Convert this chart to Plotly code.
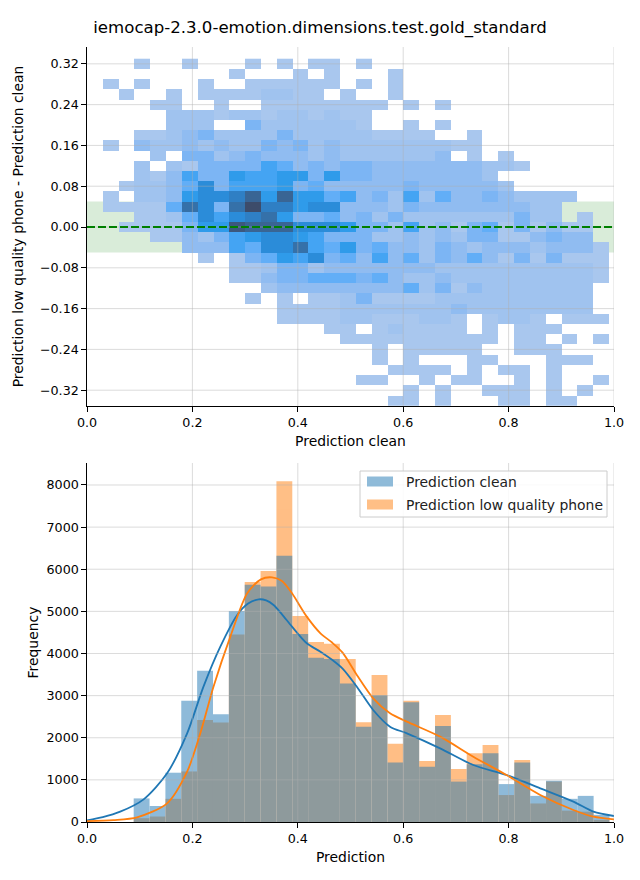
import plotly.graph_objects as go

TITLE = "iemocap-2.3.0-emotion.dimensions.test.gold_standard"

# ---------------- top: 2D histogram (intensity level per cell) ----
# columns: x bins of width 0.03 starting at 0.0 (33 columns)
# rows: y bins centred on 0.32, 0.30, ... , -0.34 (34 rows)
hm_x_start = 0.0
hm_x_width = 0.03
hm_y_top = 0.32
hm_y_step = 0.02
# level code per cell: 0 = empty, 1..d = light -> dark (groups of 5 columns)
hm_rows = [
    "00010 01000 10101 10100 00000 00000 000",  # 0.32
    "00000 00001 00010 10001 00000 00000 000",  # 0.30
    "01010 00100 11111 10101 00000 00000 000",  # 0.28
    "00100 10111 12211 01001 00000 00000 000",  # 0.26
    "00001 10010 01111 11110 10100 00000 000",  # 0.24
    "00000 22212 21221 21100 00000 00000 000",  # 0.22
    "00000 22200 42222 22100 10100 00000 000",  # 0.20
    "00011 23422 22422 22211 11001 00000 000",  # 0.18
    "01032 23232 24342 32222 22211 00000 000",  # 0.16
    "00002 04423 43332 32222 22301 01000 000",  # 0.14
    "00020 21444 46534 34433 33333 22100 000",  # 0.12
    "00021 36447 66774 74433 33333 20000 000",  # 0.10
    "00122 35846 66745 33333 43333 32000 000",  # 0.08
    "01022 37889 b7b77 56342 62533 43222 200",  # 0.06
    "01111 5a84a d9978 83332 43333 33322 000",  # 0.04
    "00011 25868 9a744 53424 22222 22422 010",  # 0.02
    "00111 1477c bbb88 87442 62314 51413 110",  # 0.00
    "00001 13246 78876 44422 32324 41134 330",  # -0.02
    "00000 03336 588a6 57453 32432 33323 331",  # -0.04
    "00000 00101 45768 45363 52435 31414 111",  # -0.06
    "00000 00001 12442 33333 33222 22222 221",  # -0.08
    "00000 00001 13445 55453 22322 22222 221",  # -0.10
    "00000 00000 02333 33333 52413 22222 220",  # -0.12
    "00000 00000 10101 12411 11222 22222 220",  # -0.14
    "00000 00000 00111 12222 22232 22222 220",  # -0.16
    "00000 00000 00111 12211 12210 12210 111",  # -0.18
    "00000 00000 00000 11012 11110 10111 000",  # -0.20
    "00000 00000 00000 01111 11111 10110 101",  # -0.22
    "00000 00000 00000 00010 11111 00111 000",  # -0.24
    "00000 00000 00000 00010 10001 10001 110",  # -0.26
    "00000 00000 00000 00001 11101 01101 000",  # -0.28
    "00000 00000 00000 00110 01011 00101 001",  # -0.30
    "00000 00000 00000 00000 10100 11101 010",  # -0.32
    "00000 00000 00000 00001 10100 01101 100",  # -0.34
]
level_colors = ["#a9c7ee", "#a0c3ef", "#90bcf1", "#7cb5f4", "#62aef7", "#44a4f3",
                "#2f9bea", "#2b8cd9", "#2f7fc4", "#3571a9", "#396594", "#3c587e", "#3d4c6a"]

top_yticks = [-0.32, -0.24, -0.16, -0.08, 0.0, 0.08, 0.16, 0.24, 0.32]
x_ticks = [0.0, 0.2, 0.4, 0.6, 0.8, 1.0]

# ---------------- bottom: histograms + KDE -----------------------------------------
bin_lo, bin_hi, n_bins = 0.0886, 0.9914, 30
clean_counts = [560, 380, 1170, 2880, 3590, 2560, 5010, 5630, 5590, 6320,
                4460, 3900, 3870, 3290, 2260, 3010, 1410, 2840, 1310, 2280,
                960, 1370, 1630, 900, 1410, 620, 980, 550, 620, 170]
phone_counts = [90, 130, 550, 1200, 2420, 2360, 4450, 5700, 5960, 8090,
                4890, 4270, 4230, 3870, 2370, 3490, 1860, 2880, 1450, 2540,
                1260, 1630, 1830, 640, 1470, 440, 960, 270, 245, 50]

kde_x_clean = [0.0, 0.03, 0.063, 0.1075, 0.152, 0.19, 0.221, 0.253, 0.285, 0.305,
               0.326, 0.34, 0.354, 0.37, 0.389, 0.417, 0.443, 0.465, 0.485, 0.512,
               0.543, 0.575, 0.607, 0.67, 0.733, 0.796, 0.86, 0.923, 0.961, 1.0]
kde_y_clean = [40, 115, 245, 538, 1156, 2105, 3212, 4162, 4914, 5180,
               5286, 5260, 5151, 4930, 4637, 4242, 4043, 3850, 3640, 3212,
               2659, 2263, 2105, 1749, 1353, 1116, 799, 483, 245, 142]
kde_x_phone = [0.0, 0.05, 0.095, 0.152, 0.19, 0.215, 0.24, 0.272, 0.304, 0.33,
               0.351, 0.37, 0.389, 0.417, 0.443, 0.465, 0.485, 0.512, 0.543, 0.575,
               0.607, 0.67, 0.733, 0.796, 0.86, 0.923, 0.961, 1.0]
kde_y_phone = [20, 45, 111, 443, 1195, 2105, 3212, 4400, 5428, 5760,
               5808, 5720, 5428, 4875, 4479, 4260, 4020, 3490, 2936, 2580,
               2382, 2026, 1551, 1116, 641, 285, 126, 63]
bottom_yticks = [0, 1000, 2000, 3000, 4000, 5000, 6000, 7000, 8000]
legend_labels = ["Prediction clean", "Prediction low quality phone"]

# ---------------- build -----------------------------------------------------------
FONT = "DejaVu Sans"
BLUE = "#1f77b4"
ORANGE = "#ff7f0e"
TICK_SIZE = 12.7
LABEL_SIZE = 13.9

z = []
for r in hm_rows:
    s = r.replace(" ", "")
    s = (s + "0" * 33)[:33]
    z.append([None if c == "0" else int(c, 16) for c in s])
hm_x = [hm_x_start + hm_x_width * (k + 0.5) for k in range(33)]
hm_y = [round(hm_y_top - hm_y_step * j, 3) for j in range(len(hm_rows))]
n_lv = len(level_colors)
cscale = [[i / (n_lv - 1), c] for i, c in enumerate(level_colors)]

bw = (bin_hi - bin_lo) / n_bins
bin_centers = [bin_lo + bw * (i + 0.5) for i in range(n_bins)]

fig = go.Figure()
fig.add_trace(go.Heatmap(x=hm_x, y=hm_y, z=z, colorscale=cscale, zmin=1, zmax=n_lv,
                         showscale=False, xaxis="x", yaxis="y", hoverinfo="skip"))

fig.add_trace(go.Bar(x=bin_centers, y=phone_counts, width=bw, marker_color=ORANGE,
                     opacity=0.5, marker_line_width=0, name=legend_labels[1],
                     xaxis="x2", yaxis="y2", showlegend=False))
fig.add_trace(go.Bar(x=bin_centers, y=clean_counts, width=bw, marker_color=BLUE,
                     opacity=0.5, marker_line_width=0, name=legend_labels[0],
                     xaxis="x2", yaxis="y2", showlegend=False))
fig.add_trace(go.Scatter(x=kde_x_clean, y=kde_y_clean, mode="lines", line_shape="spline",
                         line=dict(color=BLUE, width=1.8, smoothing=0.8), showlegend=False,
                         xaxis="x2", yaxis="y2"))
fig.add_trace(go.Scatter(x=kde_x_phone, y=kde_y_phone, mode="lines", line_shape="spline",
                         line=dict(color=ORANGE, width=1.8, smoothing=0.8), showlegend=False,
                         xaxis="x2", yaxis="y2"))

# page body adds an 8px offset; compensate so the plot lands where the reference has it
OFF = 8
W, H = 640, 880
PX_L, PX_R, PX_T, PX_B = 87, 614, 47, 822   # target plot box in page pixels
L = PX_L - OFF
R = W - (PX_R - OFF)
T = PX_T - OFF
B = H - (PX_B - OFF)
plot_h = PX_B - PX_T
plot_w = PX_R - PX_L
top_dom = [(PX_B - 406) / plot_h, 1.0]
bot_dom = [0.0, (PX_B - 463) / plot_h]


def px(xp):
    return (xp - PX_L) / plot_w


def py(yp):
    return (PX_B - yp) / plot_h


shapes = []
# green tolerance band (below)
shapes.append(dict(type="rect", xref="x domain", yref="y", x0=0, x1=1, y0=-0.05, y1=0.05,
                   fillcolor="rgba(0,128,0,0.15)", line_width=0, layer="below"))
GRID = "rgba(176,176,176,0.45)"
for xv in x_ticks[1:]:
    shapes.append(dict(type="line", xref="x", yref="y domain", x0=xv, x1=xv, y0=0, y1=1,
                       line=dict(color=GRID, width=1), layer="above"))
    shapes.append(dict(type="line", xref="x2", yref="y2 domain", x0=xv, x1=xv, y0=0, y1=1,
                       line=dict(color=GRID, width=1), layer="above"))
for yv in top_yticks:
    shapes.append(dict(type="line", xref="x domain", yref="y", x0=0, x1=1, y0=yv, y1=yv,
                       line=dict(color=GRID, width=1), layer="above"))
for yv in bottom_yticks[1:]:
    shapes.append(dict(type="line", xref="x2 domain", yref="y2", x0=0, x1=1, y0=yv, y1=yv,
                       line=dict(color=GRID, width=1), layer="above"))
# zero reference line
shapes.append(dict(type="line", xref="x domain", yref="y", x0=0, x1=1, y0=0, y1=0,
                   line=dict(color="#008000", width=2, dash="8px,3px"), layer="above"))

# legend drawn like matplotlib's (frame + wide patches)
LEG_X0, LEG_X1, LEG_Y0, LEG_Y1 = 360, 607, 471, 517
shapes.append(dict(type="rect", xref="paper", yref="paper",
                   x0=px(LEG_X0), x1=px(LEG_X1), y0=py(LEG_Y1), y1=py(LEG_Y0),
                   fillcolor="rgba(255,255,255,0.85)", line=dict(color="#cccccc", width=1),
                   layer="above"))
annotations = []
row_centers = [481.5, 504.5]
for lab, col, yc in zip(legend_labels, [BLUE, ORANGE], row_centers):
    shapes.append(dict(type="rect", xref="paper", yref="paper",
                       x0=px(367), x1=px(393), y0=py(yc + 5), y1=py(yc - 5),
                       fillcolor=col, opacity=0.5, line_width=0, layer="above"))
    annotations.append(dict(text=lab, xref="paper", yref="paper", x=px(404), y=py(yc),
                            xanchor="left", yanchor="middle", showarrow=False,
                            font=dict(family=FONT, size=LABEL_SIZE, color="#222222")))

axis_common = dict(showline=True, linecolor="black", linewidth=1.3, ticks="outside",
                   ticklen=4.5, tickwidth=1, tickcolor="black", showgrid=False,
                   zeroline=False, automargin=False,
                   tickfont=dict(family=FONT, size=TICK_SIZE, color="black"))

fig.update_layout(
    width=W, height=H,
    margin=dict(l=L, r=R, t=T, b=B),
    paper_bgcolor="white", plot_bgcolor="white",
    font=dict(family=FONT, size=TICK_SIZE, color="black"),
    barmode="overlay",
    showlegend=False,
    title=dict(text=TITLE, x=(320 - OFF) / W, xref="container", xanchor="center",
               y=1 - (27.5 - OFF) / H, yref="container", yanchor="middle",
               font=dict(family=FONT, size=16.6, color="black")),
    xaxis=dict(domain=[0, 1], anchor="y", range=[0, 1], tickvals=x_ticks,
               ticktext=[f"{v:.1f}" for v in x_ticks],
               title=dict(text="Prediction clean", standoff=7,
                          font=dict(family=FONT, size=LABEL_SIZE)), **axis_common),
    yaxis=dict(domain=top_dom, anchor="x", range=[-0.351, 0.353], tickvals=top_yticks,
               ticktext=[(f"{v:.2f}").replace("-", "\u2212") for v in top_yticks],
               title=dict(text="Prediction low quality phone - Prediction clean", standoff=13,
                          font=dict(family=FONT, size=LABEL_SIZE)), **axis_common),
    xaxis2=dict(domain=[0, 1], anchor="y2", range=[0, 1], tickvals=x_ticks,
                ticktext=[f"{v:.1f}" for v in x_ticks],
                title=dict(text="Prediction", standoff=7,
                           font=dict(family=FONT, size=LABEL_SIZE)), **axis_common),
    yaxis2=dict(domain=bot_dom, anchor="x2", range=[0, 8522], tickvals=bottom_yticks,
                ticktext=[str(v) for v in bottom_yticks],
                title=dict(text="Frequency", standoff=4,
                           font=dict(family=FONT, size=LABEL_SIZE)), **axis_common),
    shapes=shapes,
    annotations=annotations,
)

fig.write_html("out.html")
